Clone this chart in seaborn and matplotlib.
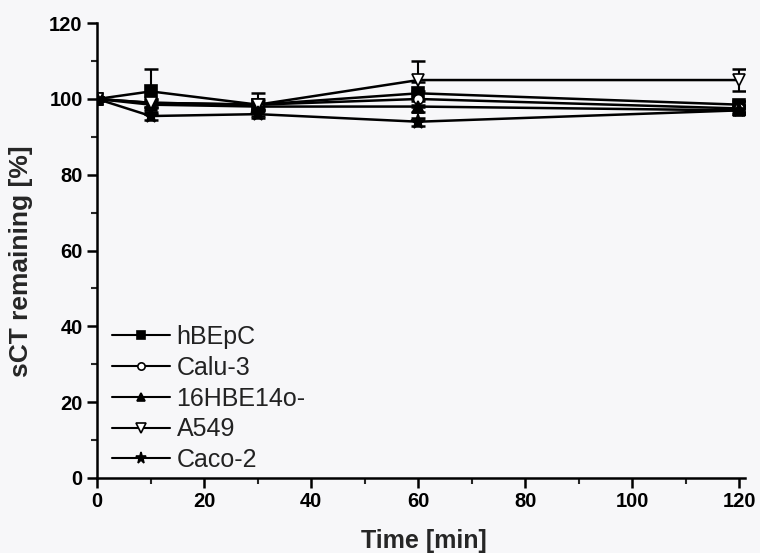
import numpy as np
import pandas as pd
import seaborn as sns
import matplotlib.pyplot as plt

time_min = [0, 10, 30, 60, 120]

cell_lines = ['hBEpC', 'Calu-3', '16HBE14o-', 'A549', 'Caco-2']

hbepc = [100, 102, 98.5, 101.5, 98.5]
calu3 = [100, 99, 98.5, 100, 97.5]
hbe16 = [100, 98.5, 98, 98, 97]
a549 = [100, 99, 98.5, 105, 105]
caco2 = [100, 95.5, 96, 94, 97]

hbepc_err = [0.5, 6, 1.5, 3, 1]
calu3_err = [0.5, 1, 1, 2, 1]
hbe16_err = [0.5, 1, 1, 1.5, 1]
a549_err = [0.5, 1, 3, 5, 3]
caco2_err = [0.5, 1, 1, 1, 1]

values = [hbepc, calu3, hbe16, a549, caco2]
errors = [hbepc_err, calu3_err, hbe16_err, a549_err, caco2_err]
markers = ['s', 'o', '^', 'v', '*']
filled = [True, False, True, False, True]
msizes = [8, 7, 8, 9, 11]

sns.set_theme(style='ticks')
plt.rcParams['font.family'] = ['Liberation Sans', 'DejaVu Sans']

fig = plt.figure(figsize=(7.6, 5.53), dpi=100)
bg = '#f7f7f9'
fig.patch.set_facecolor(bg)
ax = fig.add_axes([0.128, 0.136, 0.852, 0.822])
ax.set_facecolor(bg)

for name, vals, err, mk, fill, ms in zip(cell_lines, values, errors, markers, filled, msizes):
    df = pd.DataFrame({'Time': time_min, 'Remaining': vals})
    ax.errorbar(time_min, vals, yerr=err, fmt='none', ecolor='black',
                elinewidth=1.5, capsize=5, capthick=1.8, zorder=2)
    sns.lineplot(data=df, x='Time', y='Remaining', ax=ax, color='black',
                 linewidth=1.8, marker=mk, markersize=ms,
                 markerfacecolor='black' if fill else 'white',
                 markeredgecolor='black', markeredgewidth=1.2,
                 label=name, zorder=3)

ax.set_xlim(0, 121)
ax.set_ylim(0, 120)
ax.set_xticks(np.arange(0, 121, 20))
ax.set_yticks(np.arange(0, 121, 20))
ax.set_xticks(np.arange(10, 121, 20), minor=True)
ax.set_yticks(np.arange(10, 121, 20), minor=True)
ax.tick_params(axis='both', which='major', direction='out', length=7, width=1.8,
               labelsize=14.5, colors='black')
ax.tick_params(axis='both', which='minor', direction='out', length=4, width=1.5)
for lab in ax.get_xticklabels() + ax.get_yticklabels():
    lab.set_fontweight('bold')

for side in ['top', 'right']:
    ax.spines[side].set_visible(False)
for side in ['left', 'bottom']:
    ax.spines[side].set_linewidth(1.8)
    ax.spines[side].set_color('black')

ax.set_xlabel('Time [min]', fontsize=18, fontweight='bold')
ax.set_ylabel('sCT remaining [%]', fontsize=19, fontweight='bold')
ax.xaxis.set_label_coords(0.505, -0.113)
ax.yaxis.set_label_coords(-0.100, 0.477)

leg = ax.legend(loc='lower left', bbox_to_anchor=(-0.012, -0.037), frameon=False,
                fontsize=18, handlelength=2.3, handletextpad=0.28,
                labelspacing=0.27, borderaxespad=0.5, markerscale=0.75)
for h in leg.legend_handles:
    h.set_linewidth(1.5)
for t in leg.get_texts():
    t.set_color('#222222')

fig.savefig('out.png', dpi=100, facecolor=bg)
